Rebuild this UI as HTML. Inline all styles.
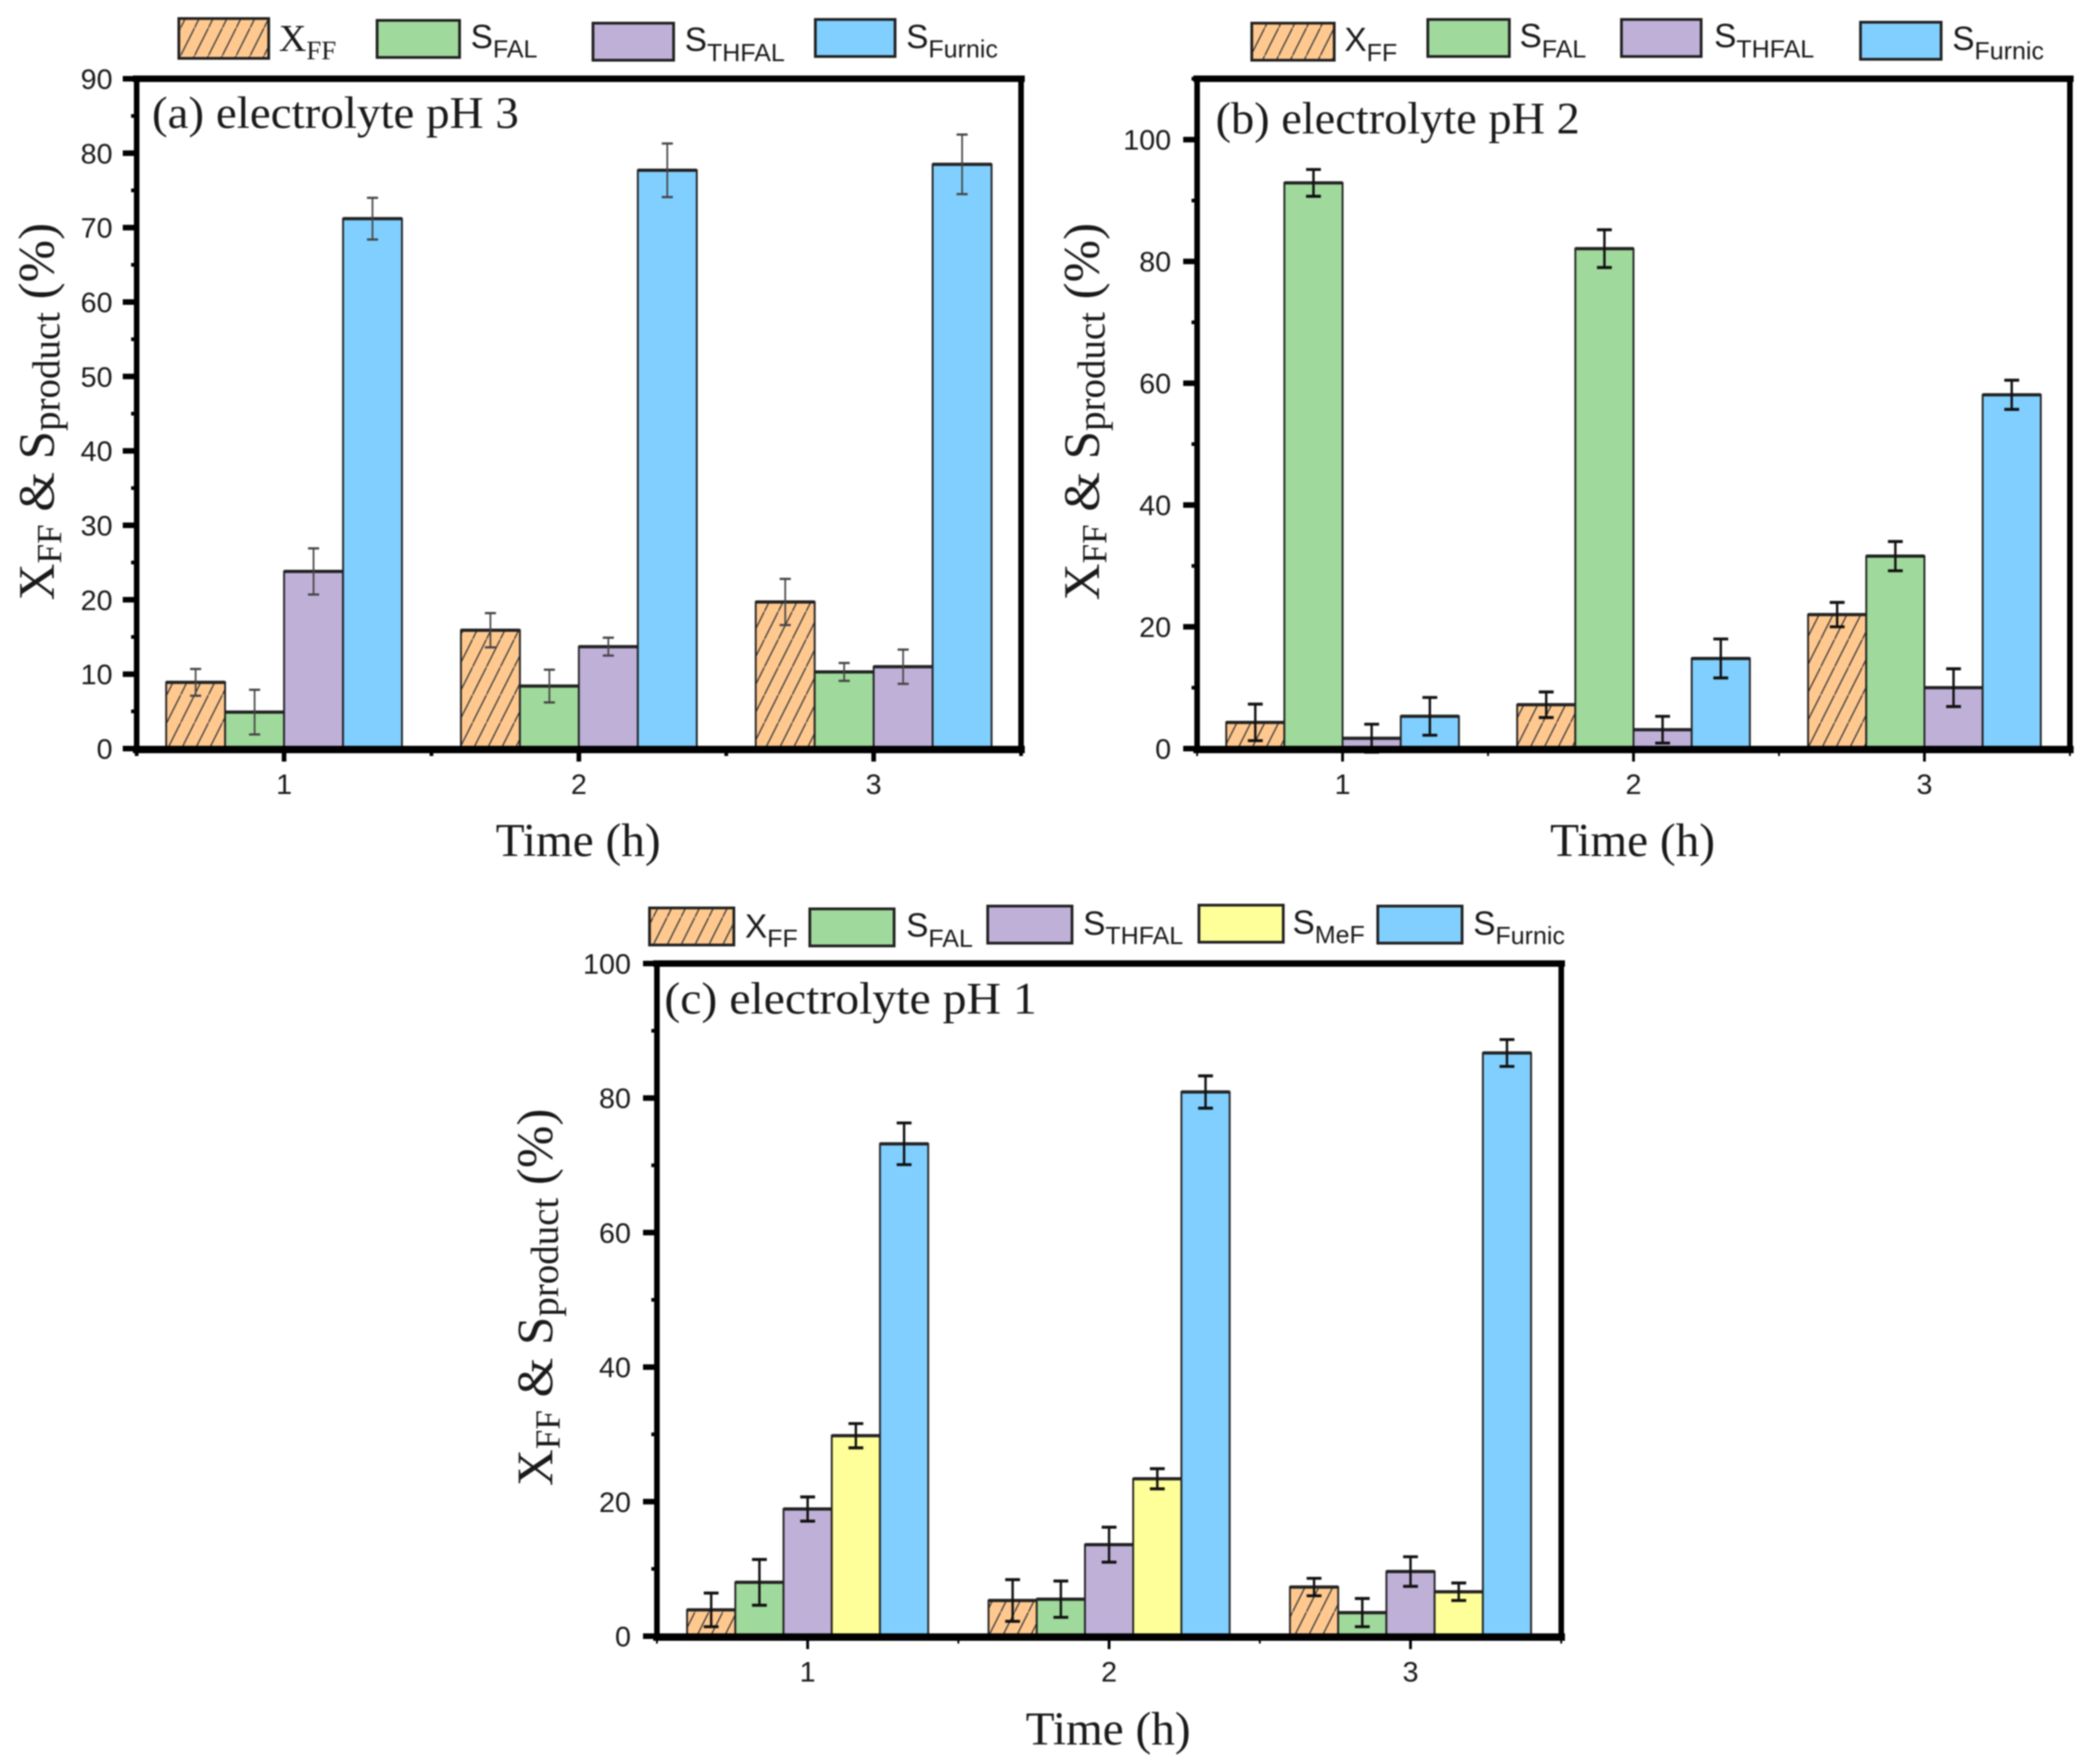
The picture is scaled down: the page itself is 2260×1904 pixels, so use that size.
<!DOCTYPE html>
<html lang="en">
<head>
<meta charset="utf-8">
<title>Furfural conversion and product selectivity by electrolyte pH</title>
<style>
html,body{margin:0;padding:0;background:#fff;}
#figure{display:block;width:2260px;height:1904px;filter:blur(0.7px);}
text{fill:#1a1a1a;}
.serif{font-family:"Liberation Serif",serif;}
.sans{font-family:"Liberation Sans",sans-serif;}
.sw{stroke:#222;stroke-width:3;}
</style>
</head>
<body>
<svg id="figure" xmlns="http://www.w3.org/2000/svg" width="2260" height="1904" viewBox="0 0 2260 1904">
<defs>
<pattern id="hatch" patternUnits="userSpaceOnUse" width="15" height="30">
<rect width="15" height="30" fill="#FFC88F"/>
<path d="M-2,34 L17,-4" stroke="#3a3a3a" stroke-width="1.4" fill="none"/>
</pattern>
</defs>

<g>
<rect class="sw" x="193" y="20" width="97" height="43" fill="url(#hatch)"/>
<text class="serif" x="301" y="55" font-size="41">X<tspan font-size="29" dy="9">FF</tspan></text>
<rect class="sw" x="407" y="22" width="89" height="40" fill="#9FD99B"/>
<text class="sans" x="508" y="52" font-size="36">S<tspan font-size="27" dy="10">FAL</tspan></text>
<rect class="sw" x="640" y="25" width="87" height="40" fill="#BFB0D8"/>
<text class="sans" x="739" y="55" font-size="36">S<tspan font-size="27" dy="11">THFAL</tspan></text>
<rect class="sw" x="880" y="21" width="86" height="40" fill="#80CFFF"/>
<text class="sans" x="978" y="52" font-size="36">S<tspan font-size="27" dy="10">Furnic</tspan></text>
</g>

<g>
<rect class="sw" x="1351" y="25" width="89" height="40" fill="url(#hatch)"/>
<text class="sans" x="1451" y="55" font-size="36">X<tspan font-size="27" dy="11">FF</tspan></text>
<rect class="sw" x="1541" y="21" width="88" height="40" fill="#9FD99B"/>
<text class="sans" x="1640" y="51" font-size="36">S<tspan font-size="27" dy="11">FAL</tspan></text>
<rect class="sw" x="1750" y="21" width="86" height="40" fill="#BFB0D8"/>
<text class="sans" x="1850" y="51" font-size="36">S<tspan font-size="27" dy="11">THFAL</tspan></text>
<rect class="sw" x="2008" y="24" width="87" height="40" fill="#80CFFF"/>
<text class="sans" x="2107" y="54" font-size="36">S<tspan font-size="27" dy="10">Furnic</tspan></text>
</g>

<g>
<rect class="sw" x="701" y="980" width="91" height="40" fill="url(#hatch)"/>
<text class="sans" x="804" y="1012" font-size="36">X<tspan font-size="27" dy="10">FF</tspan></text>
<rect class="sw" x="874" y="981" width="91" height="40" fill="#9FD99B"/>
<text class="sans" x="978" y="1011" font-size="36">S<tspan font-size="27" dy="11">FAL</tspan></text>
<rect class="sw" x="1066" y="978" width="91" height="40" fill="#BFB0D8"/>
<text class="sans" x="1169" y="1009" font-size="36">S<tspan font-size="27" dy="10">THFAL</tspan></text>
<rect class="sw" x="1294" y="977" width="91" height="40" fill="#FFFF99"/>
<text class="sans" x="1395" y="1008" font-size="36">S<tspan font-size="27" dy="10">MeF</tspan></text>
<rect class="sw" x="1487" y="978" width="91" height="40" fill="#80CFFF"/>
<text class="sans" x="1590" y="1009" font-size="36">S<tspan font-size="27" dy="10">Furnic</tspan></text>
</g>

<text class="serif" x="164" y="138" font-size="49" textLength="396" lengthAdjust="spacingAndGlyphs">(a) electrolyte pH 3</text>
<text class="serif" x="1312" y="144" font-size="49" textLength="393" lengthAdjust="spacingAndGlyphs">(b) electrolyte pH 2</text>
<text class="serif" x="717" y="1094" font-size="49" textLength="402" lengthAdjust="spacingAndGlyphs">(c) electrolyte pH 1</text>

<text class="serif" transform="translate(58 648) rotate(-90)" font-size="55">X<tspan font-size="38" dy="8">FF</tspan><tspan dy="-8"> &amp; S</tspan><tspan font-size="42" dy="6">product</tspan><tspan dy="-6"> (%)</tspan></text>
<text class="serif" transform="translate(1186 648) rotate(-90)" font-size="55">X<tspan font-size="38" dy="8">FF</tspan><tspan dy="-8"> &amp; S</tspan><tspan font-size="42" dy="6">product</tspan><tspan dy="-6"> (%)</tspan></text>
<text class="serif" transform="translate(596 1604) rotate(-90)" font-size="55">X<tspan font-size="38" dy="8">FF</tspan><tspan dy="-8"> &amp; S</tspan><tspan font-size="42" dy="6">product</tspan><tspan dy="-6"> (%)</tspan></text>

<text class="serif" x="624" y="924" font-size="51" text-anchor="middle">Time (h)</text>
<text class="serif" x="1762" y="924" font-size="51" text-anchor="middle">Time (h)</text>
<text class="serif" x="1196" y="1883" font-size="51" text-anchor="middle">Time (h)</text>
</svg>

<script>
const categories = ['1', '2', '3'];

const ph3YTicks = [0, 10, 20, 30, 40, 50, 60, 70, 80, 90];
const ph3XFF = [8.9, 15.9, 19.7];
const ph3XFFErr = [1.8, 2.3, 3.1];
const ph3SFAL = [4.9, 8.4, 10.3];
const ph3SFALErr = [3.0, 2.2, 1.2];
const ph3STHFAL = [23.8, 13.7, 11.0];
const ph3STHFALErr = [3.1, 1.2, 2.3];
const ph3SFurnic = [71.2, 77.7, 78.5];
const ph3SFurnicErr = [2.8, 3.6, 4.0];

const ph2YTicks = [0, 20, 40, 60, 80, 100];
const ph2XFF = [4.3, 7.2, 22.0];
const ph2XFFErr = [3.0, 2.1, 2.0];
const ph2SFAL = [92.9, 82.1, 31.6];
const ph2SFALErr = [2.2, 3.1, 2.4];
const ph2STHFAL = [1.7, 3.1, 10.0];
const ph2STHFALErr = [2.3, 2.2, 3.1];
const ph2SFurnic = [5.3, 14.8, 58.1];
const ph2SFurnicErr = [3.1, 3.2, 2.4];

const ph1YTicks = [0, 20, 40, 60, 80, 100];
const ph1XFF = [3.9, 5.3, 7.3];
const ph1XFFErr = [2.5, 3.1, 1.3];
const ph1SFAL = [8.0, 5.5, 3.5];
const ph1SFALErr = [3.4, 2.7, 2.1];
const ph1STHFAL = [18.9, 13.6, 9.6];
const ph1STHFALErr = [1.8, 2.6, 2.2];
const ph1SMeF = [29.8, 23.4, 6.6];
const ph1SMeFErr = [1.8, 1.5, 1.3];
const ph1SFurnic = [73.2, 80.9, 86.7];
const ph1SFurnicErr = [3.1, 2.4, 2.0];

const NS = 'http://www.w3.org/2000/svg';
const root = document.getElementById('figure');

function mk(parent, tag, attrs) {
  const el = document.createElementNS(NS, tag);
  for (const k in attrs) el.setAttribute(k, attrs[k]);
  parent.appendChild(el);
  return el;
}

function drawPanel(panelId, box, yMax, yTicks, series, style) {
  const n = categories.length;
  const xScale = function (v) { return box.left + (v + 0.5) / n * (box.right - box.left); };
  const yScale = function (v) { return box.bottom - v / yMax * (box.bottom - box.top); };

  const g = mk(root, 'g', {});
  
  

  const groupW = 0.8;
  const barW = groupW / series.length;
  series.forEach(function (s, si) {
    s.values.forEach(function (val, ci) {
      const xL = xScale(ci) + (-groupW / 2 + si * barW) * (box.right - box.left) / n;
      const w = barW * (box.right - box.left) / n;
      const yT = yScale(val);
      const bar = mk(g, 'rect', { x: xL, y: yT, width: w, height: yScale(0) - yT, fill: s.fill, stroke: '#222', 'stroke-width': 2 });
      
      
      const cap = mk(g, 'line', { x1: xL, x2: xL + w, y1: yT, y2: yT, stroke: '#222', 'stroke-width': 3.5 });
      
      
    });
  });
  series.forEach(function (s, si) {
    s.values.forEach(function (val, ci) {
      const xC = xScale(ci) + (-groupW / 2 + (si + 0.5) * barW) * (box.right - box.left) / n;
      const yHi = yScale(val + s.errors[ci]);
      const yLo = yScale(val - s.errors[ci]);
      const stem = mk(g, 'line', { x1: xC, x2: xC, y1: yHi, y2: yLo, stroke: style.errColor, 'stroke-width': style.errWidth });
      
      
      [yHi, yLo].forEach(function (yy) {
        const c = mk(g, 'line', { x1: xC - style.capW / 2, x2: xC + style.capW / 2, y1: yy, y2: yy, stroke: style.errColor, 'stroke-width': style.errWidth + 0.6 });
        
        
      });
    });
  });

  const axisEdges = [
    { name: 'axis-top', x1: box.left - 4, x2: box.right + 4, y1: box.top, y2: box.top, w: 7 },
    { name: 'axis-bottom', x1: box.left - 4, x2: box.right + 4, y1: box.bottom + 1, y2: box.bottom + 1, w: 8 },
    { name: 'axis-left', x1: box.left, x2: box.left, y1: box.top, y2: box.bottom, w: 6 },
    { name: 'axis-right', x1: box.right, x2: box.right, y1: box.top, y2: box.bottom, w: 6 }
  ];
  axisEdges.forEach(function (e) {
    const ln = mk(g, 'line', { x1: e.x1, x2: e.x2, y1: e.y1, y2: e.y2, stroke: '#000', 'stroke-width': e.w });
    
    
  });

  yTicks.forEach(function (t, i) {
    const yy = yScale(t);
    const tick = mk(g, 'line', { x1: box.left - 15, x2: box.left, y1: yy, y2: yy, stroke: '#000', 'stroke-width': 6 });
    
    
    const lab = mk(g, 'text', { x: box.left - style.yLabelGap, y: yy + 11, 'font-size': 31, 'text-anchor': 'end', class: 'sans' });
    lab.textContent = String(t);
    
    
    const next = i + 1 < yTicks.length ? yTicks[i + 1] : t + (t - yTicks[i - 1]);
    const mid = (t + next) / 2;
    if (mid <= yMax) {
      const minor = mk(g, 'line', { x1: box.left - 6, x2: box.left, y1: yScale(mid), y2: yScale(mid), stroke: '#000', 'stroke-width': 4 });
      
      
    }
  });

  categories.forEach(function (c, ci) {
    const xx = xScale(ci);
    const tick = mk(g, 'line', { x1: xx, x2: xx, y1: box.bottom, y2: box.bottom + 14, stroke: '#000', 'stroke-width': style.xTickW });
    
    
    const lab = mk(g, 'text', { x: xx, y: box.bottom + 49, 'font-size': 31, 'text-anchor': 'middle', class: 'sans' });
    lab.textContent = c;
    
    
  });
  for (let ci = -1; ci < n; ci++) {
    const xm = xScale(ci + 0.5);
    const minor = mk(g, 'line', { x1: xm, x2: xm, y1: box.bottom, y2: box.bottom + 8, stroke: '#000', 'stroke-width': style.xTickW - 1 });
    
    
  }
}

drawPanel('ph3', { left: 147.5, right: 1102, top: 85, bottom: 808 }, 90, ph3YTicks, [
  { key: 'xff', fill: 'url(#hatch)', values: ph3XFF, errors: ph3XFFErr },
  { key: 'sfal', fill: '#9FD99B', values: ph3SFAL, errors: ph3SFALErr },
  { key: 'sthfal', fill: '#BFB0D8', values: ph3STHFAL, errors: ph3STHFALErr },
  { key: 'sfurnic', fill: '#80CFFF', values: ph3SFurnic, errors: ph3SFurnicErr }
], { errColor: '#444', errWidth: 1.8, capW: 12, xTickW: 5, yLabelGap: 26 });

drawPanel('ph2', { left: 1292, right: 2234, top: 85, bottom: 808 }, 110, ph2YTicks, [
  { key: 'xff', fill: 'url(#hatch)', values: ph2XFF, errors: ph2XFFErr },
  { key: 'sfal', fill: '#9FD99B', values: ph2SFAL, errors: ph2SFALErr },
  { key: 'sthfal', fill: '#BFB0D8', values: ph2STHFAL, errors: ph2STHFALErr },
  { key: 'sfurnic', fill: '#80CFFF', values: ph2SFurnic, errors: ph2SFurnicErr }
], { errColor: '#111', errWidth: 2.6, capW: 16, xTickW: 3, yLabelGap: 28 });

drawPanel('ph1', { left: 709, right: 1685, top: 1040, bottom: 1766 }, 100, ph1YTicks, [
  { key: 'xff', fill: 'url(#hatch)', values: ph1XFF, errors: ph1XFFErr },
  { key: 'sfal', fill: '#9FD99B', values: ph1SFAL, errors: ph1SFALErr },
  { key: 'sthfal', fill: '#BFB0D8', values: ph1STHFAL, errors: ph1STHFALErr },
  { key: 'smef', fill: '#FFFF99', values: ph1SMeF, errors: ph1SMeFErr },
  { key: 'sfurnic', fill: '#80CFFF', values: ph1SFurnic, errors: ph1SFurnicErr }
], { errColor: '#111', errWidth: 2.6, capW: 16, xTickW: 3, yLabelGap: 28 });
</script>
</body>
</html>
